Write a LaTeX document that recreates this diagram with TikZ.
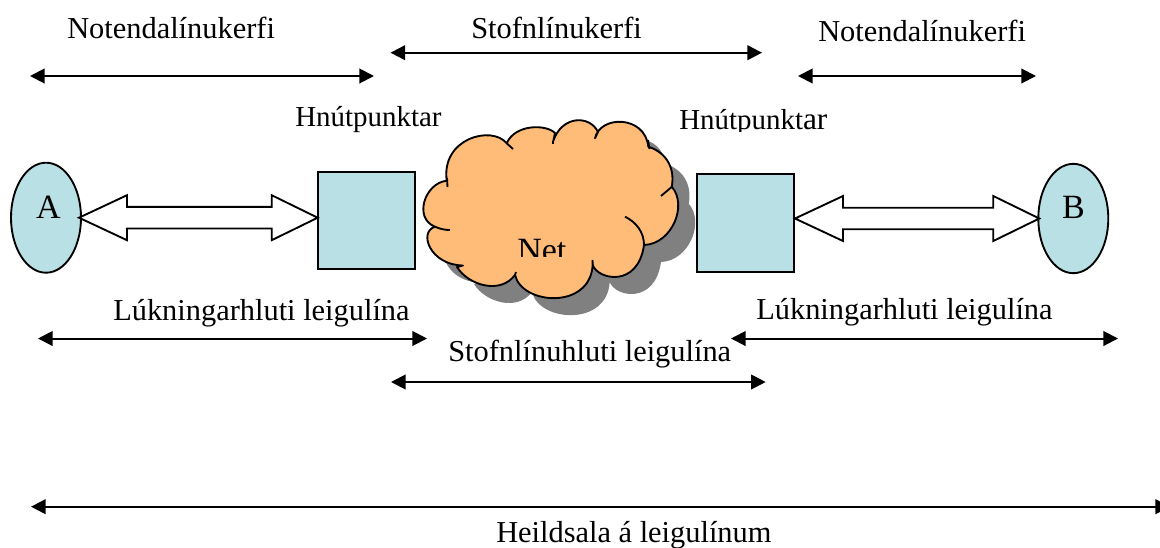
\documentclass[tikz,border=0pt]{standalone}
\usepackage{fontspec}
\setmainfont{Liberation Serif}
\usetikzlibrary{arrows.meta,shapes.geometric}
\definecolor{boxblue}{RGB}{185,224,228}
\definecolor{cloudorange}{RGB}{255,187,120}
\definecolor{cloudshadow}{RGB}{128,128,128}
\tikzset{
  span/.style={line width=1.5pt,{Triangle[length=11pt,width=11pt]}-{Triangle[length=11pt,width=11pt]}},
  lab/.style={anchor=base west,inner sep=0pt,font=\fontsize{22.8}{26}\selectfont},
  hub/.style={anchor=base west,inner sep=0pt,font=\fontsize{21.7}{25}\selectfont},
  bigletter/.style={inner sep=0pt,anchor=base,font=\fontsize{25.5}{30}\selectfont},
  boxshape/.style={draw=black,line width=1.4pt,fill=boxblue},
  blockarrow/.style={draw=black,line width=1.4pt,fill=white,line join=miter},
  cloudline/.style={draw=black,line width=1.4pt,line join=round}
}
\newcommand{\cloudpath}{
  (446.7,180.7) .. controls (425,183) and (413,218) .. (435,226.7)
  .. controls (418,232) and (430,265) .. (463,265.5)
  -- (457,267)
  .. controls (468,285) and (500,295) .. (515,275)
  .. controls (522,305) and (590,310) .. (592.7,265)
  .. controls (598,280) and (638,288) .. (644,245)
  .. controls (672,244) and (688,205) .. (671.7,186.7)
  .. controls (675,170) and (668,153) .. (648.3,146.7)
  .. controls (645,115) and (600,115) .. (595,138.3)
  -- (598,132)
  .. controls (590,115) and (562,115) .. (553.3,141)
  -- (555,133)
  .. controls (546,124) and (515,124) .. (506.7,143.3)
  .. controls (492,125) and (441,138) .. (446.7,180.7) -- cycle
}
\newcommand{\blockarrowpath}[3]{% left tip, right tip, centre y
  \draw[blockarrow] (#1,#3) -- ({#1+48},{#3-22.5}) -- ({#1+48},{#3-10.8})
    -- ({#2-46},{#3-10.8}) -- ({#2-46},{#3-22.5}) -- (#2,#3)
    -- ({#2-46},{#3+22.5}) -- ({#2-46},{#3+10.8}) -- ({#1+48},{#3+10.8})
    -- ({#1+48},{#3+22.5}) -- cycle;
}
\begin{document}
\begin{tikzpicture}[x=0.75pt,y=-0.75pt]
\useasboundingbox (0,0) rectangle (1160,547);
% spans
\coordinate (ul1) at (30,76); \coordinate (ul2) at (374,76);
\coordinate (bb1) at (390.5,52.7); \coordinate (bb2) at (762,52.7);
\coordinate (ur1) at (798,76); \coordinate (ur2) at (1036,76);
\coordinate (al1) at (38,338.5); \coordinate (al2) at (427,338.5);
\coordinate (ar1) at (731,338.5); \coordinate (ar2) at (1118,338.5);
\coordinate (bl1) at (391,382); \coordinate (bl2) at (765.7,382);
\coordinate (wh1) at (31,506.7); \coordinate (wh2) at (1170,506.7);
\draw[span] (ul1) -- (ul2);
\draw[span] (bb1) -- (bb2);
\draw[span] (ur1) -- (ur2);
\draw[span] (al1) -- (al2);
\draw[span] (ar1) -- (ar2);
\draw[span] (bl1) -- (bl2);
\draw[span] (wh1) -- (wh2);
% labels
\node[lab] (t1) at (67,38.3) {Notendalínukerfi};
\node[lab] (t2) at (471,38) {Stofnlínukerfi};
\node[lab] (t3) at (818,41) {Notendalínukerfi};
\node[hub] (h1) at (295,126) {Hnútpunktar};
\begin{scope}
  \clip (670,100) rectangle (850,131);
  \node[hub] (h2) at (679,129) {Hnútpunkt\fontsize{23.5}{26}\selectfont ar};
\end{scope}
\node[lab] (l1) at (113,320) {Lúkningarhluti leigulína};
\node[lab] (l2) at (756,319) {Lúkningarhluti leigulína};
\node[lab] (l3) at (448,361.7) {Stofnlínuhluti leigulína};
\node[lab] (l4) at (496,542) {Heildsala á leigulínum};
% cloud
\begin{scope}[shift={(17,17)}]
  \fill[cloudshadow] \cloudpath;
\end{scope}
\filldraw[cloudline,fill=cloudorange] \cloudpath;
\draw[cloudline] (447,178) -- (447.5,187);
\draw[cloudline] (435,226.7) .. controls (440,229) and (445,230) .. (450,230);
\draw[cloudline] (515,275) -- (516,272);
\draw[cloudline] (592.7,265) -- (592.5,260);
\draw[cloudline] (625,216.7) .. controls (636,222) and (644,232) .. (644,245);
\draw[cloudline] (661,196) -- (672,186.7);
\draw[cloudline] (648,140) -- (649.5,149);
\draw[cloudline] (553.3,141) -- (553.3,144);
\draw[cloudline] (506.7,143.3) -- (513,149);
\begin{scope}
  \clip (500,230) rectangle (600,256);
  \node[bigletter,anchor=base west] (net) at (517,261.5) {Net};
\end{scope}
% boxes and ellipses
\draw[boxshape] (317.7,171.7) rectangle (415,269.3);
\draw[boxshape] (696.7,174) rectangle (794.3,272.3);
\node[boxshape,ellipse,minimum width=52.5pt,minimum height=82.5pt,inner sep=0pt] (A) at (46,217.7) {};
\node[boxshape,ellipse,minimum width=52.5pt,minimum height=82pt,inner sep=0pt] (B) at (1073.3,218.5) {};
\node[bigletter] (Al) at (48.5,218) {A};
\node[bigletter] (Bl) at (1073.5,218) {B};
\blockarrowpath{79}{317.7}{217.7}
\blockarrowpath{795}{1039.3}{218.5}
\end{tikzpicture}
\end{document}
